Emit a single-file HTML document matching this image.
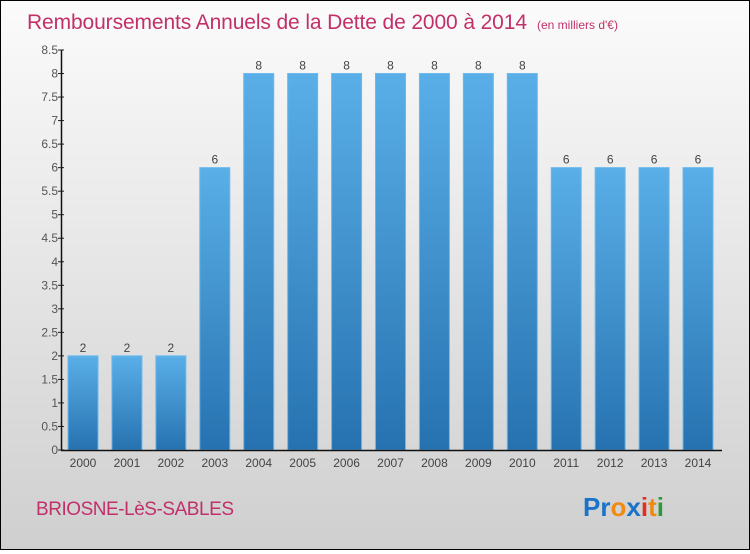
<!DOCTYPE html>
<html><head><meta charset="utf-8"><style>
body{margin:0;width:750px;height:550px;overflow:hidden;font-family:"Liberation Sans",sans-serif}
#wrap{position:absolute;left:0;top:0;width:748px;height:548px;border:1px solid #000;background:linear-gradient(#fbfbfb,#cfcfcf)}
</style></head><body>
<div id="wrap">
<svg id="chart" width="748" height="548">
<defs><linearGradient id="bg" x1="0" y1="0" x2="0" y2="1"><stop offset="0" stop-color="#5aafe8"/><stop offset="1" stop-color="#2672b0"/></linearGradient></defs>
<text x="26" y="28" font-size="21" fill="#c2306a" textLength="500">Remboursements Annuels de la Dette de 2000 à 2014</text>
<text x="536" y="28" font-size="12" fill="#c2306a">(en milliers d'€)</text>
<text x="35" y="514" font-size="19" fill="#c2306a" textLength="198">BRIOSNE-LèS-SABLES</text>
<text x="582" y="515" font-size="26" font-weight="bold"><tspan fill="#1a73c8">Pr</tspan><tspan fill="#f08a10">o</tspan><tspan fill="#1a73c8">x</tspan><tspan fill="#e03020">i</tspan><tspan fill="#f08a10">t</tspan><tspan fill="#2a9a3a">i</tspan></text>
<g id="g"></g>
</svg></div>
<script>
const categories=["2000","2001","2002","2003","2004","2005","2006","2007","2008","2009","2010","2011","2012","2013","2014"];
const values=[2,2,2,6,8,8,8,8,8,8,8,6,6,6,6];
const ticks=[0,0.5,1,1.5,2,2.5,3,3.5,4,4.5,5,5.5,6,6.5,7,7.5,8,8.5];
const NS="http://www.w3.org/2000/svg",g=document.getElementById('g');
const y=v=>449-v*47.06, x=i=>67+i*43.93;
function mk(t,a,txt){const e=document.createElementNS(NS,t);for(const k in a)e.setAttribute(k,a[k]);if(txt!=null)e.textContent=txt;g.appendChild(e);return e;}
ticks.forEach(t=>{
 const l=mk('line',{x1:57,x2:63,y1:y(t),y2:y(t),stroke:'#222'});
 
 
 const s=mk('text',{x:57,y:y(t)+4,'font-size':12,fill:'#555','text-anchor':'end'},String(t));
 
 
});
categories.forEach((c,i)=>{
 const r=mk('rect',{x:x(i),y:y(values[i]),width:30,height:y(0)-y(values[i]),fill:'url(#bg)',stroke:'#6bb8ec','stroke-width':1});
 
 
 const v=mk('text',{x:x(i)+15,y:y(values[i])-4,'font-size':12,fill:'#444','text-anchor':'middle'},String(values[i]));
 
 
 const t=mk('text',{x:x(i)+15,y:466,'font-size':12,fill:'#444','text-anchor':'middle'},c);
 
 
});
const ya=mk('line',{x1:60.5,x2:60.5,y1:y(8.5),y2:y(0)+0.5,stroke:'#111','stroke-width':1.5});


const xa=mk('line',{x1:60,x2:721,y1:y(0)+0.5,y2:y(0)+0.5,stroke:'#111','stroke-width':1.5});


</script>
</body></html>
